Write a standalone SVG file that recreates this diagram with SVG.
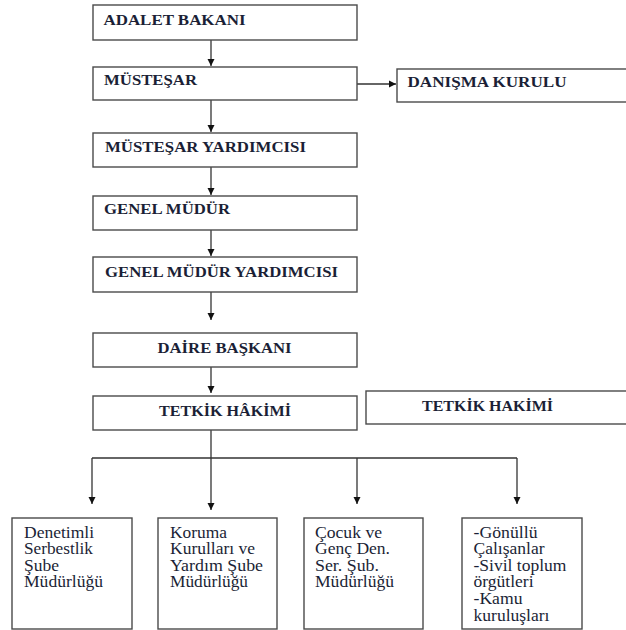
<svg xmlns="http://www.w3.org/2000/svg" width="626" height="630" viewBox="0 0 626 630">
<style>
.box{fill:#fff;stroke:#4a4a4a;stroke-width:1.4}
text{font-family:'Liberation Serif','DejaVu Serif',serif;fill:#1b1f36}
.t{font-weight:bold;font-size:14.5px}
.s{font-size:16px}
.c{fill:none;stroke:#333;stroke-width:1.3}
</style>
<defs>
<marker id="ah" markerWidth="8" markerHeight="8" refX="7" refY="4" orient="auto" markerUnits="userSpaceOnUse">
<path d="M0,0.5 L7,4 L0,7.5 Z" fill="#111"/>
</marker>
</defs>
<rect width="626" height="630" fill="#fff"/>
<g id="connectors">
<line class="c" x1="211" y1="40" x2="211" y2="66" marker-end="url(#ah)"/>
<line class="c" x1="211" y1="100" x2="211" y2="132" marker-end="url(#ah)"/>
<line class="c" x1="211" y1="167" x2="211" y2="195" marker-end="url(#ah)"/>
<line class="c" x1="211" y1="230" x2="211" y2="256" marker-end="url(#ah)"/>
<line class="c" x1="211" y1="292" x2="211" y2="320" marker-end="url(#ah)"/>
<line class="c" x1="211" y1="367" x2="211" y2="393" marker-end="url(#ah)"/>
<line class="c" x1="357" y1="84" x2="396" y2="84" marker-end="url(#ah)"/>
<line class="c" x1="211" y1="430" x2="211" y2="510" marker-end="url(#ah)"/>
<line class="c" x1="92" y1="458" x2="517" y2="458"/>
<line class="c" x1="92" y1="458" x2="92" y2="504" marker-end="url(#ah)"/>
<line class="c" x1="357" y1="458" x2="357" y2="504" marker-end="url(#ah)"/>
<line class="c" x1="517" y1="458" x2="517" y2="504" marker-end="url(#ah)"/>
</g>
<g id="adalet-bakani"><rect class="box" x="93" y="5" width="264" height="35"/><text class="t" x="103.5" y="25" textLength="142" lengthAdjust="spacingAndGlyphs">ADALET BAKANI</text></g>
<g id="mustesar"><rect class="box" x="93" y="67" width="264" height="33"/><text class="t" x="104" y="85" textLength="93" lengthAdjust="spacingAndGlyphs">MÜSTEŞAR</text></g>
<g id="danisma-kurulu"><rect class="box" x="397" y="69" width="240" height="33"/><text class="t" x="407.5" y="87" textLength="159" lengthAdjust="spacingAndGlyphs">DANIŞMA KURULU</text></g>
<g id="mustesar-yardimcisi"><rect class="box" x="93" y="133" width="264" height="34"/><text class="t" x="105" y="152" textLength="201" lengthAdjust="spacingAndGlyphs">MÜSTEŞAR YARDIMCISI</text></g>
<g id="genel-mudur"><rect class="box" x="93" y="196" width="264" height="34"/><text class="t" x="104" y="214" textLength="126" lengthAdjust="spacingAndGlyphs">GENEL MÜDÜR</text></g>
<g id="genel-mudur-yardimcisi"><rect class="box" x="93" y="257" width="264" height="35"/><text class="t" x="105" y="277" textLength="233" lengthAdjust="spacingAndGlyphs">GENEL MÜDÜR YARDIMCISI</text></g>
<g id="daire-baskani"><rect class="box" x="93" y="333" width="264" height="34"/><text class="t" x="157.5" y="352.5" textLength="134" lengthAdjust="spacingAndGlyphs">DAİRE BAŞKANI</text></g>
<g id="tetkik-hakimi-1"><rect class="box" x="93" y="396" width="264" height="34"/><text class="t" x="159" y="415.5" textLength="132" lengthAdjust="spacingAndGlyphs">TETKİK HÂKİMİ</text></g>
<g id="tetkik-hakimi-2"><rect class="box" x="366" y="391" width="270" height="33"/><text class="t" x="422" y="411" textLength="131" lengthAdjust="spacingAndGlyphs">TETKİK HAKİMİ</text></g>
<g id="denetimli"><rect class="box" x="12" y="518" width="120" height="111"/>
<text class="s" x="24" y="537.5" textLength="70" lengthAdjust="spacingAndGlyphs">Denetimli</text>
<text class="s" x="24" y="554" textLength="69" lengthAdjust="spacingAndGlyphs">Serbestlik</text>
<text class="s" x="24" y="570.7" textLength="35" lengthAdjust="spacingAndGlyphs">Şube</text>
<text class="s" x="24" y="587.3" textLength="79" lengthAdjust="spacingAndGlyphs">Müdürlüğü</text></g>
<g id="koruma"><rect class="box" x="158" y="518" width="119" height="111"/>
<text class="s" x="170" y="537.5" textLength="57" lengthAdjust="spacingAndGlyphs">Koruma</text>
<text class="s" x="170" y="554" textLength="85" lengthAdjust="spacingAndGlyphs">Kurulları ve</text>
<text class="s" x="170" y="570.7" textLength="93" lengthAdjust="spacingAndGlyphs">Yardım Şube</text>
<text class="s" x="170" y="587.3" textLength="78" lengthAdjust="spacingAndGlyphs">Müdürlüğü</text></g>
<g id="cocuk"><rect class="box" x="304" y="518" width="119" height="111"/>
<text class="s" x="315" y="537.5" textLength="67" lengthAdjust="spacingAndGlyphs">Çocuk ve</text>
<text class="s" x="315" y="554" textLength="75" lengthAdjust="spacingAndGlyphs">Genç Den.</text>
<text class="s" x="315" y="570.7" textLength="64" lengthAdjust="spacingAndGlyphs">Ser. Şub.</text>
<text class="s" x="315" y="587.3" textLength="79" lengthAdjust="spacingAndGlyphs">Müdürlüğü</text></g>
<g id="gonullu"><rect class="box" x="462" y="518" width="120" height="111"/>
<text class="s" x="473.5" y="537.5" textLength="64" lengthAdjust="spacingAndGlyphs">-Gönüllü</text>
<text class="s" x="473.5" y="554" textLength="71" lengthAdjust="spacingAndGlyphs">Çalışanlar</text>
<text class="s" x="473.5" y="570.7" textLength="93" lengthAdjust="spacingAndGlyphs">-Sivil toplum</text>
<text class="s" x="473.5" y="587.3" textLength="60" lengthAdjust="spacingAndGlyphs">örgütleri</text>
<text class="s" x="473.5" y="604" textLength="49" lengthAdjust="spacingAndGlyphs">-Kamu</text>
<text class="s" x="473.5" y="620.5" textLength="76" lengthAdjust="spacingAndGlyphs">kuruluşları</text></g>
</svg>
